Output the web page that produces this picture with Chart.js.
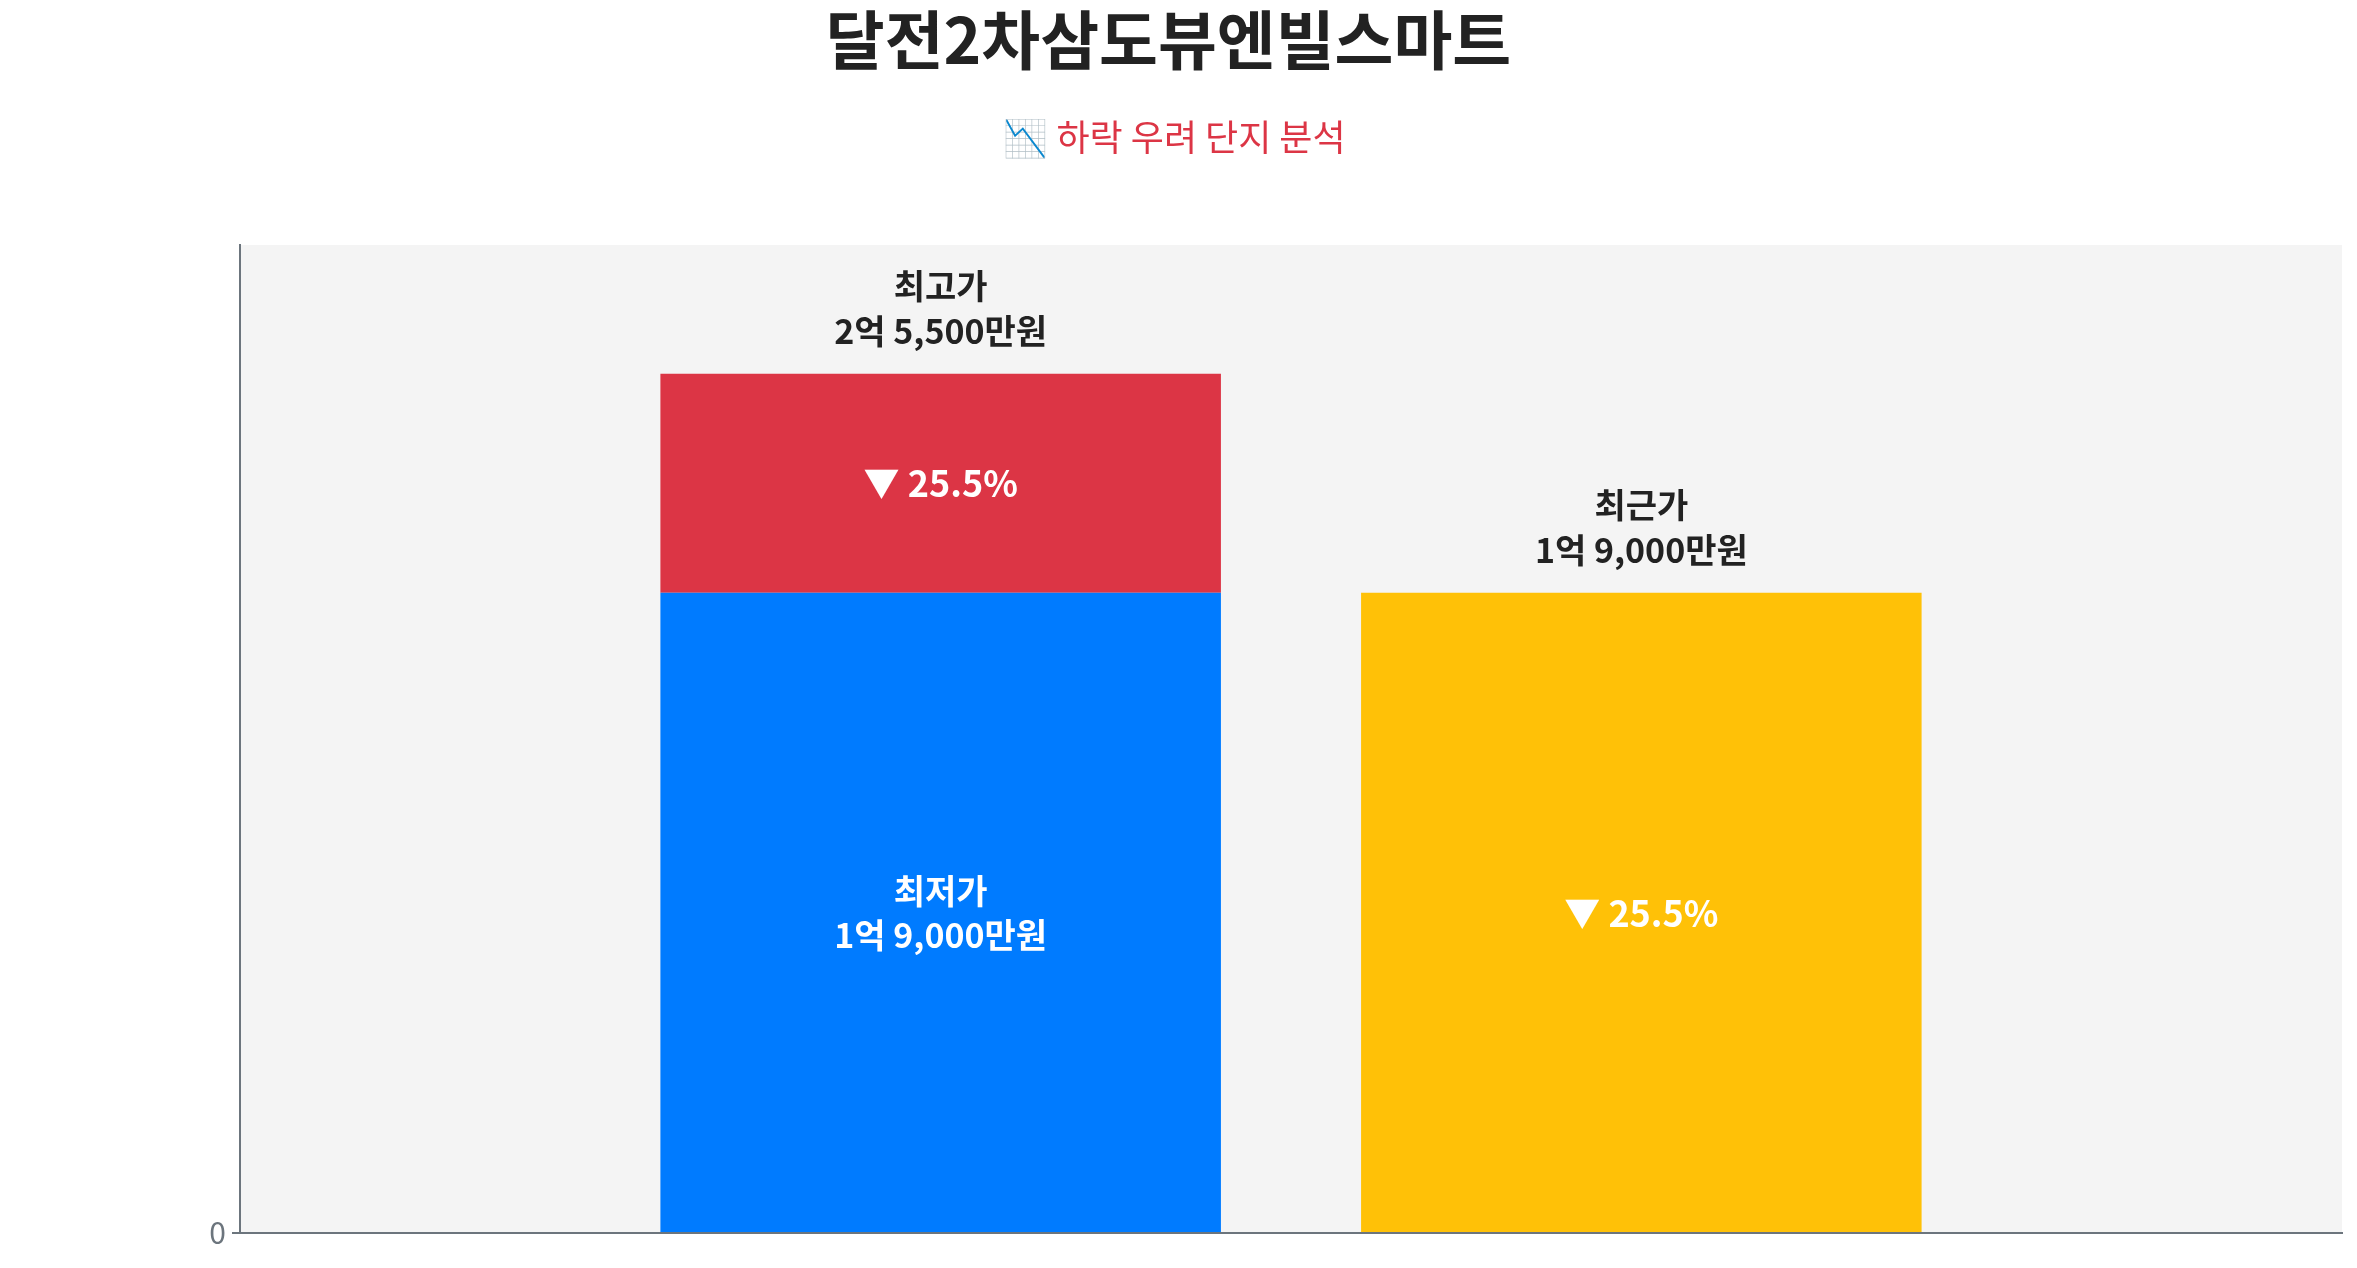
<!DOCTYPE html>
<html><head><meta charset="utf-8">
<script src="https://cdn.jsdelivr.net/npm/chart.js@4"></script>
<style>html,body{margin:0;padding:0;background:#fff}#c{display:block}</style>
</head><body>
<canvas id="c" width="2357" height="1268"></canvas>
<script>
const titleText = '달전2차삼도뷰엔빌스마트';
const subtitleText = '📉 하락 우려 단지 분석';
const categories = ['', '최고가/최저가', '최근가', ''];
const lowPrice = [null, 19000, null, null];     // 만원
const highPrice = [null, 25500, null, null];
const recentPrice = [null, null, 19000, null];
const dropPart = highPrice.map((h, i) => h == null ? null : h - lowPrice[i]);
const dropRate = '25.5%';
const yMax = 29325;

function fmt(v) {
  if (v === 0) return '0';
  const eok = Math.floor(v / 10000), man = v % 10000;
  if (eok && man) return eok + '억 ' + man.toLocaleString('en-US') + '만원';
  if (eok) return eok + '억원';
  return man.toLocaleString('en-US') + '만원';
}
const FONT = "'Noto Sans CJK KR','Noto Sans',sans-serif";

const deco = {
  id: 'deco',
  beforeDraw(ch) {
    const {ctx, chartArea: a} = ch;
    ctx.save();
    ctx.fillStyle = '#f4f4f4';
    ctx.fillRect(a.left, a.top, a.right - a.left, a.bottom - a.top);
    ctx.restore();
  },
  afterDatasetsDraw(ch) {
    const {ctx} = ch;
    ctx.save();
    ctx.textAlign = 'center'; ctx.textBaseline = 'middle';
    ctx.fillStyle = '#222';
    ctx.font = "bold 64px " + FONT;
    ctx.fillText(titleText, ch.width / 2 - 10, 40);
    ctx.fillStyle = '#dc3545';
    ctx.font = "36px " + FONT;
    ctx.fillText(subtitleText, ch.width / 2 - 4, 137);

    const y = ch.scales.y;
    const mLow = ch.getDatasetMeta(0).data[1];
    const mDrop = ch.getDatasetMeta(1).data[1];
    const mRec = ch.getDatasetMeta(2).data[2];
    ctx.font = "bold 34px " + FONT;
    ctx.fillStyle = '#222';
    let t = y.getPixelForValue(highPrice[1]);
    ctx.fillText('최고가', mDrop.x, t - 88);
    ctx.fillText(fmt(highPrice[1]), mDrop.x, t - 43);
    t = y.getPixelForValue(recentPrice[2]);
    ctx.fillText('최근가', mRec.x, t - 88);
    ctx.fillText(fmt(recentPrice[2]), mRec.x, t - 43);
    ctx.fillStyle = '#fff';
    let mid = (y.getPixelForValue(lowPrice[1]) + y.getPixelForValue(0)) / 2;
    ctx.fillText('최저가', mLow.x, mid - 22);
    ctx.fillText(fmt(lowPrice[1]), mLow.x, mid + 22);
    ctx.font = "bold 36px " + FONT;
    mid = (y.getPixelForValue(highPrice[1]) + y.getPixelForValue(lowPrice[1])) / 2;
    ctx.fillText('▼ ' + dropRate, mDrop.x, mid);
    mid = (y.getPixelForValue(recentPrice[2]) + y.getPixelForValue(0)) / 2;
    ctx.fillText('▼ ' + dropRate, mRec.x, mid);
    ctx.restore();
  }
};

new Chart(document.getElementById('c'), {
  type: 'bar',
  data: {
    labels: categories,
    datasets: [
      {label: '최저가', data: lowPrice, backgroundColor: '#007bff'},
      {label: '하락폭', data: dropPart, backgroundColor: '#dc3545'},
      {label: '최근가', data: recentPrice, backgroundColor: '#ffc107'}
    ]
  },
  options: {
    responsive: false, animation: false,
    datasets: {bar: {categoryPercentage: 1, barPercentage: 0.8, skipNull: false}},
    layout: {padding: {top: 245, right: 15, bottom: 35, left: 0}},
    plugins: {legend: {display: false}, tooltip: {enabled: false}},
    scales: {
      x: {stacked: true, offset: false, grid: {display: false, drawTicks: false},
          ticks: {display: false}, border: {color: '#6c757d', width: 2}},
      y: {stacked: true, min: 0, max: yMax,
          afterBuildTicks(s) { s.ticks = s.ticks.filter(t => t.value % 5000 === 0); },
          afterFit(s) { s.width = 240; },
          ticks: {stepSize: 5000, callback: v => fmt(v), color: '#6c757d',
                  font: {family: FONT, size: 30}, padding: 6},
          grid: {color: '#e6e6e6', lineWidth: 2, tickLength: 8, tickColor: '#6c757d'},
          border: {color: '#6c757d', width: 2}}
    }
  },
  plugins: [deco]
});
</script>
</body></html>
